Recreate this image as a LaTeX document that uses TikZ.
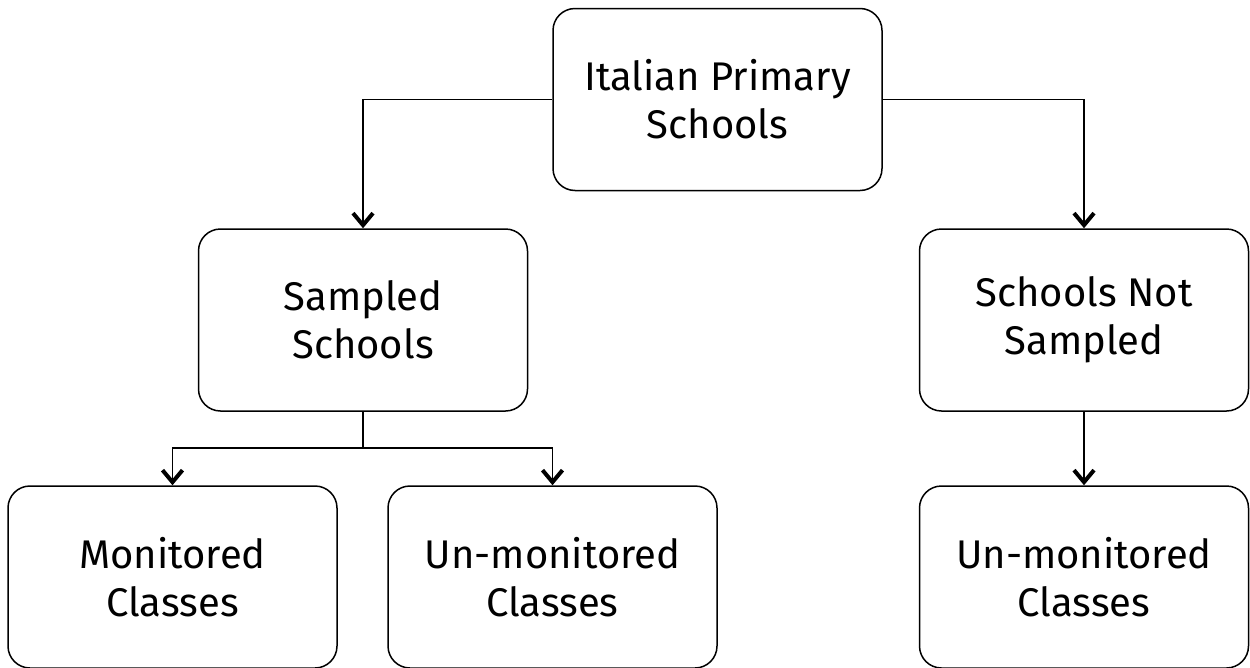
\documentclass[tikz,border=0pt]{standalone}
\usepackage{fontspec}
\setmainfont{Fira Sans}
\usetikzlibrary{arrows.meta}
\begin{document}
\begin{tikzpicture}[x=1pt,y=-1pt,
  box/.style={draw,line width=1.5pt,rounded corners=22pt,minimum width=329pt,minimum height=182pt,align=center,inner sep=0pt,font=\fontsize{40}{48}\selectfont},
  conn/.style={line width=1.5pt},
  arr/.style={conn,-{Straight Barb[length=12pt,width=20pt,line width=4pt]}}]
\useasboundingbox (0,0) rectangle (1250,667);
\node[box] (top) at (717.5,99.5) {Italian Primary\\Schools};
\node[box] (samp) at (363,320) {Sampled\\Schools};
\node[box] (ns) at (1084,320) {Schools Not\\Sampled};
\node[box] (mon) at (172.5,577) {Monitored\\Classes};
\node[box] (unmon) at (552.5,577) {Un-monitored\\Classes};
\node[box] (unmon2) at (1084,577) {Un-monitored\\Classes};
\coordinate (bus) at (363,448);
\draw[arr] (top.west) -| (samp.north);
\draw[arr] (top.east) -| (ns.north);
\draw[conn] (samp.south) -- (bus);
\draw[arr] (bus) -| (mon.north);
\draw[arr] (bus) -| (unmon.north);
\draw[arr] (ns.south) -- (unmon2.north);
\end{tikzpicture}
\end{document}
